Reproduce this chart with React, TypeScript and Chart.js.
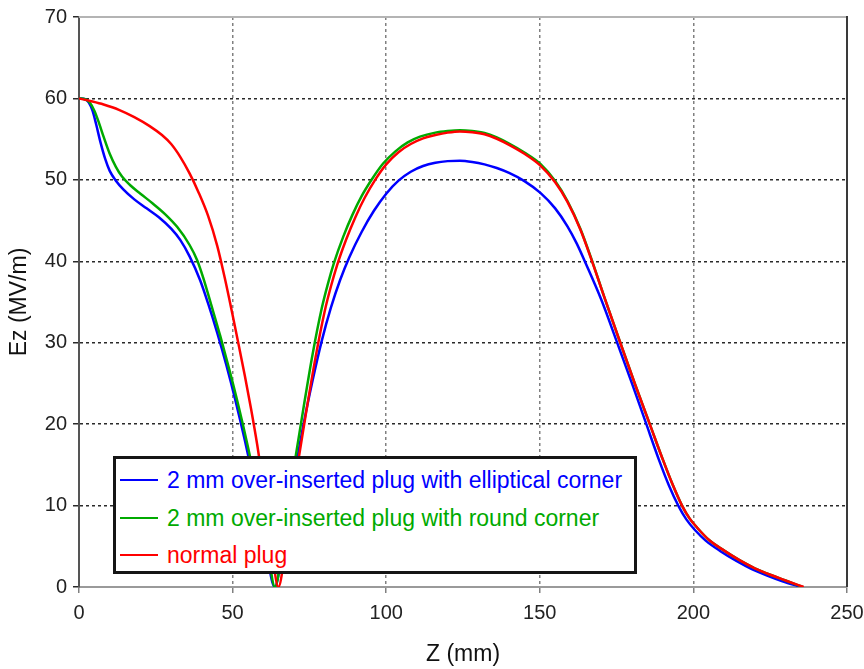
import React, { useEffect, useRef } from "react";
import { Chart, registerables } from "chart.js";

Chart.register(...registerables);

// ---- data ----
const seriesLabels = [
  "2 mm over-inserted plug with elliptical corner",
  "2 mm over-inserted plug with round corner",
  "normal plug",
];
const seriesColors = ["#0000ff", "#00aa00", "#ff0000"];

const ellipticalZ = [0, 2, 3.2, 4.4, 5.6, 7, 8.5, 10, 12, 14.5, 18, 22, 26, 30, 33, 36, 39.4, 42, 45, 48, 51, 54, 57, 60, 63.7, 67, 70, 73, 76, 79, 82, 85, 88, 92, 96, 100, 104, 108, 112, 116, 120, 124, 128, 132, 136, 140, 145, 150.2, 155, 159, 162, 165, 170, 175, 180, 184.4, 189, 192, 195.2, 197.7, 200.5, 204, 208.8, 214, 219, 224, 229, 235];
const ellipticalEz = [60, 59.9, 59.5, 58.5, 56.8, 54.6, 52.6, 51.1, 49.9, 48.8, 47.6, 46.5, 45.4, 44.0, 42.6, 40.6, 37.7, 34.85, 31.2, 27.2, 22.8, 18.0, 12.8, 7.25, 0, 6.8, 13.5, 19.8, 25.3, 30.2, 34.3, 37.7, 40.5, 43.6, 46.2, 48.3, 49.9, 51.0, 51.7, 52.1, 52.3, 52.35, 52.2, 51.9, 51.45, 50.85, 49.85, 48.4, 46.5, 44.3, 42.2, 39.7, 35.3, 30.2, 25.0, 20.3, 15.4, 12.5, 9.9, 8.3, 7.0, 5.7, 4.4, 3.2, 2.2, 1.4, 0.7, 0];

const roundZ = [0, 2, 3.5, 5, 6.5, 8, 10, 12, 14, 16.5, 20, 24, 28, 32, 36, 38.5, 40.5, 43, 46, 49, 52, 55, 58, 61, 63.8, 67, 70, 73, 76, 79, 81, 83, 86, 89, 92, 95.4, 99, 103, 107, 111, 116, 120, 124, 128, 132, 136, 140, 145, 150.2, 155, 159, 163.2, 166.8, 171, 176.2, 181, 185.8, 190, 193, 196.3, 198.8, 201.2, 205, 209.9, 215, 220, 225, 230, 235.6];
const roundEz = [60, 59.9, 59.5, 58.5, 57.0, 55.3, 53.2, 51.6, 50.4, 49.4, 48.3, 47.1, 45.8, 44.2, 42.0, 40.1, 37.9, 34.7, 30.8, 26.6, 22.1, 17.2, 11.8, 5.9, 0, 7.6, 14.8, 21.8, 28.5, 34.2, 37.2, 39.8, 43.0, 45.7, 48.0, 50.1, 52.0, 53.5, 54.6, 55.3, 55.8, 56.0, 56.1, 56.0, 55.75, 55.2, 54.45, 53.35, 51.95, 49.85, 47.4, 44.0, 40.3, 35.6, 30, 24.9, 20, 15.7, 12.8, 10, 8.4, 7.3, 5.8, 4.5, 3.3, 2.3, 1.5, 0.8, 0];

const normalZ = [0, 4, 8, 13, 18, 23, 27, 30, 33, 36, 39, 42, 45, 47.6, 50, 52, 54, 56, 58, 60, 62, 64.9, 68, 71, 74, 77, 80, 82, 84, 87, 90, 93, 96.4, 100, 104, 108, 112, 116, 120, 124, 128, 132, 136, 140, 145, 150.2, 155, 159, 163.2, 166.8, 171, 176.2, 181, 185.8, 190, 193, 196.3, 198.8, 201.2, 205, 209.9, 215, 220, 225, 230, 235.9];
const normalEz = [60, 59.65, 59.25, 58.6, 57.7, 56.6, 55.5, 54.4, 52.8, 50.8, 48.4, 45.6, 41.9, 37.7, 33.4, 29.7, 25.9, 21.9, 17.5, 12.5, 7.4, 0, 7.4, 14.6, 21.6, 28.2, 33.9, 36.9, 39.5, 42.7, 45.45, 47.8, 50.0, 51.9, 53.4, 54.4, 55.1, 55.5, 55.8, 55.95, 55.85, 55.6, 55.05, 54.3, 53.2, 51.75, 49.7, 47.3, 43.9, 40.2, 35.6, 30, 24.9, 20, 15.7, 12.8, 10, 8.4, 7.3, 5.8, 4.5, 3.3, 2.3, 1.5, 0.8, 0];

const xTickValues = [0, 50, 100, 150, 200, 250];
const yTickValues = [0, 10, 20, 30, 40, 50, 60, 70];
const xTitle = "Z (mm)";
const yTitle = "Ez (MV/m)";

const FONT = "'Liberation Sans', Arial, sans-serif";

const toPoints = (xs: number[], ys: number[]) => xs.map((x, i) => ({ x, y: ys[i] }));

const framePlugin = {
  id: "frame",
  afterDatasetsDraw(chart: any) {
    const { ctx, chartArea } = chart;
    const { left, right, top, bottom } = chartArea;
    ctx.save();
    ctx.lineWidth = 2;
    ctx.strokeStyle = "#b4b4b4";
    ctx.beginPath();
    ctx.moveTo(left, top);
    ctx.lineTo(right, top);
    ctx.stroke();
    ctx.strokeStyle = "#3a3a3a";
    ctx.beginPath();
    ctx.moveTo(right, top - 1);
    ctx.lineTo(right, bottom);
    ctx.stroke();
    ctx.restore();
  },
};

export default function App() {
  const canvasRef = useRef<HTMLCanvasElement | null>(null);

  useEffect(() => {
    const canvas = canvasRef.current;
    if (!canvas) return;
    const series = [
      { z: ellipticalZ, ez: ellipticalEz, order: 3 },
      { z: roundZ, ez: roundEz, order: 2 },
      { z: normalZ, ez: normalEz, order: 1 },
    ];
    const chart = new Chart(canvas, {
      type: "line",
      data: {
        datasets: series.map((s, i) => ({
          label: seriesLabels[i],
          data: toPoints(s.z, s.ez),
          borderColor: seriesColors[i],
          backgroundColor: seriesColors[i],
          borderWidth: 2.5,
          pointRadius: 0,
          cubicInterpolationMode: "monotone" as const,
          fill: false,
          order: s.order,
        })),
      },
      options: {
        animation: false,
        responsive: false,
        devicePixelRatio: 1,
        layout: { padding: { top: 17, right: 17, left: 0, bottom: 0 } },
        plugins: { legend: { display: false }, tooltip: { enabled: false } },
        scales: {
          x: {
            type: "linear",
            min: 0,
            max: 250,
            afterBuildTicks: (s: any) => {
              s.ticks = xTickValues.map((v) => ({ value: v }));
            },
            afterFit: (s: any) => {
              s.height = 82;
              s.paddingLeft = 0;
              s.paddingRight = 0;
            },
            ticks: {
              font: { family: FONT, size: 20 },
              color: "#222",
              padding: 8,
              maxRotation: 0,
              autoSkip: false,
            },
            grid: { color: "#808080", lineWidth: 1.5, tickLength: 6 },
            border: { display: true, color: "#9a9a9a", width: 2, dash: [3, 3] },
            title: {
              display: true,
              text: xTitle,
              font: { family: FONT, size: 23 },
              color: "#111",
              padding: { top: 0, bottom: 1 },
            },
          },
          y: {
            type: "linear",
            min: 0,
            max: 70,
            afterBuildTicks: (s: any) => {
              s.ticks = yTickValues.map((v) => ({ value: v }));
            },
            afterFit: (s: any) => {
              s.width = 79;
              s.paddingTop = 0;
              s.paddingBottom = 0;
            },
            ticks: {
              font: { family: FONT, size: 20 },
              color: "#222",
              padding: 6,
              autoSkip: false,
            },
            grid: { color: "#2a2a2a", lineWidth: 1.5, tickLength: 6 },
            border: { display: true, color: "#555", width: 2, dash: [3, 3] },
            title: {
              display: true,
              text: yTitle,
              font: { family: FONT, size: 23 },
              color: "#111",
              padding: { top: 6, bottom: 0 },
            },
          },
        },
      },
      plugins: [framePlugin],
    });
    return () => chart.destroy();
  }, []);

  const rowCenters = [21, 59, 96];

  return (
    <div style={{ position: "fixed", left: 0, top: 0, width: 864, height: 669, background: "#fff" }}>
      <canvas ref={canvasRef} width={864} height={669} style={{ position: "absolute", left: 0, top: 0, width: 864, height: 669 }} />
      <div
        style={{
          position: "absolute",
          left: 113,
          top: 456,
          width: 524,
          height: 118,
          border: "3px solid #151515",
          boxSizing: "border-box",
          background: "#fff",
        }}
      >
        {seriesLabels.map((label, i) => (
          <div
            key={label}
            style={{
              position: "absolute",
              left: 0,
              top: rowCenters[i] - 18,
              height: 36,
              width: 515,
            }}
          >
            <div style={{ position: "absolute", left: 4, top: 17, width: 38, height: 2, background: seriesColors[i] }} />
            <span
              style={{
                position: "absolute",
                left: 51,
                top: 0,
                lineHeight: "36px",
                fontFamily: FONT,
                fontSize: 23,
                color: seriesColors[i],
                whiteSpace: "nowrap",
              }}
            >
              {label}
            </span>
          </div>
        ))}
      </div>
    </div>
  );
}
